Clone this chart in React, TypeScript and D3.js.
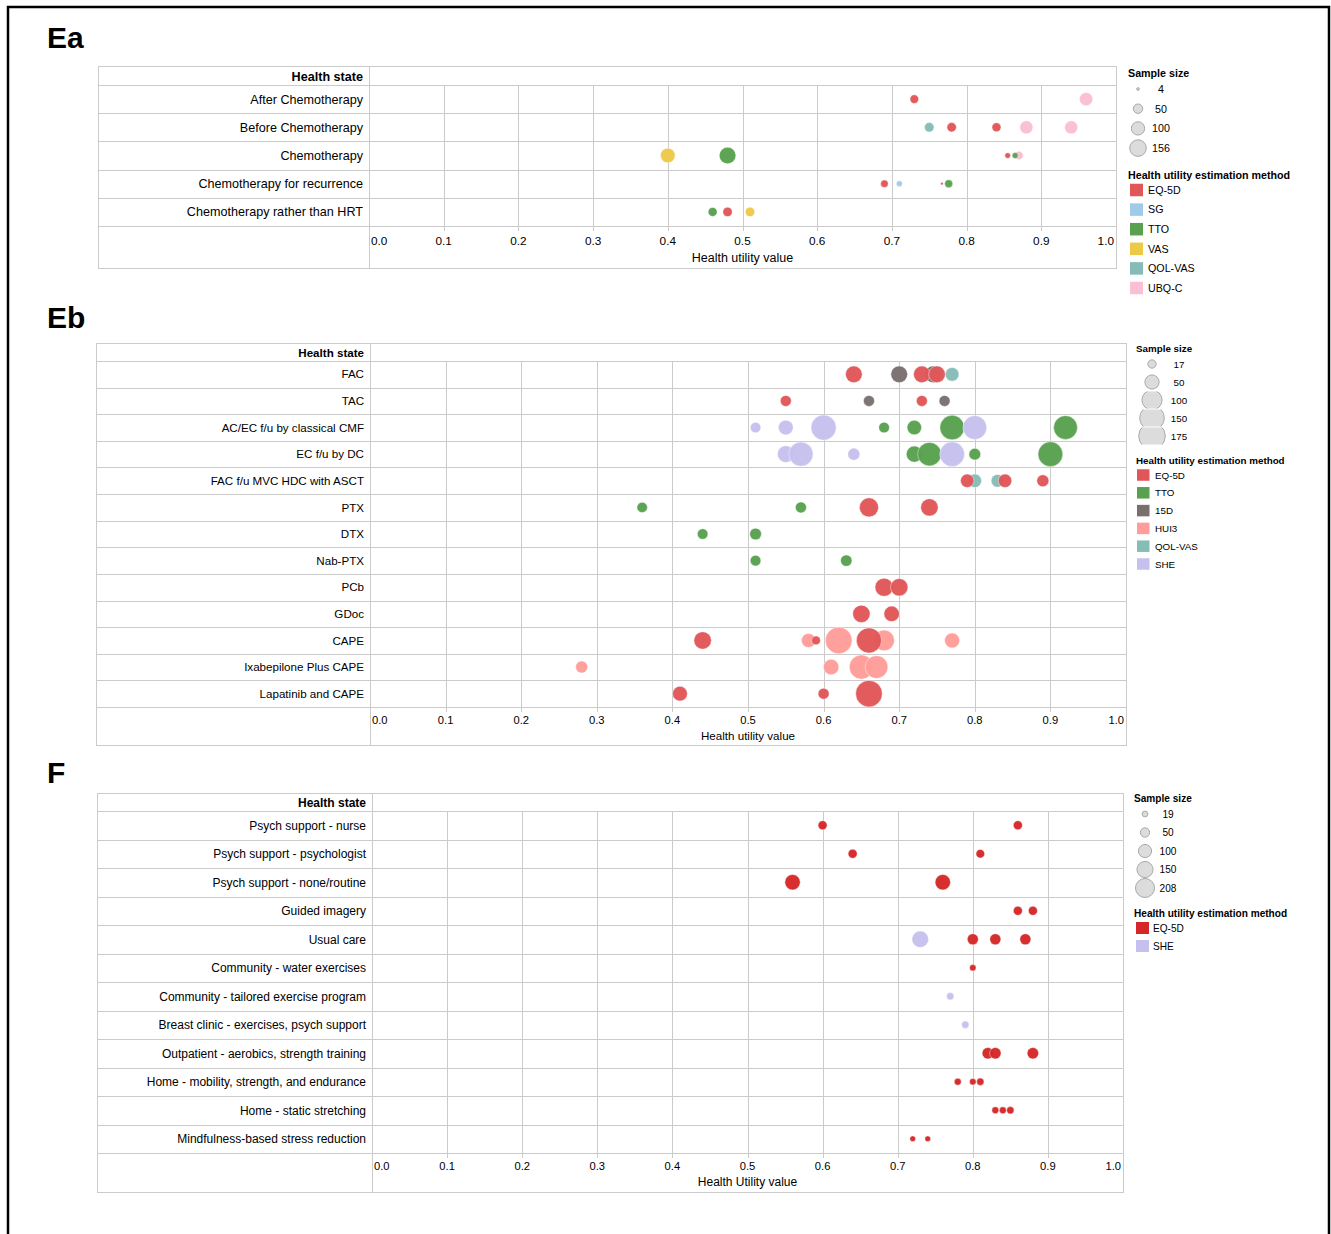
import React from 'react';
import * as d3 from 'd3';

const FONT = '"Liberation Sans", Arial, Helvetica, sans-serif';
const GRID = '#cbcbcb';

type Pt = [number, string, number, number]; // state index, method, utility value, sample size

// ---- Ea ----
const eaStates = ['After Chemotherapy', 'Before Chemotherapy', 'Chemotherapy', 'Chemotherapy for recurrence', 'Chemotherapy rather than HRT'];
const eaMethods = ['EQ-5D', 'SG', 'TTO', 'VAS', 'QOL-VAS', 'UBQ-C'];
const eaColors = ['#e15759', '#a0cbe8', '#59a14f', '#edc948', '#86bcb6', '#fabfd2'];
const eaSizeTicks = [4, 50, 100, 156];
const eaPoints: Pt[] = [
  [0, 'EQ-5D', 0.73, 42], [0, 'UBQ-C', 0.96, 100],
  [1, 'QOL-VAS', 0.75, 52], [1, 'EQ-5D', 0.78, 50], [1, 'EQ-5D', 0.84, 46], [1, 'UBQ-C', 0.88, 96], [1, 'UBQ-C', 0.94, 96],
  [2, 'VAS', 0.4, 121], [2, 'TTO', 0.48, 156], [2, 'UBQ-C', 0.87, 40], [2, 'EQ-5D', 0.855, 18], [2, 'TTO', 0.865, 20],
  [3, 'EQ-5D', 0.69, 33], [3, 'SG', 0.71, 20], [3, 'EQ-5D', 0.767, 4], [3, 'TTO', 0.776, 36],
  [4, 'TTO', 0.46, 46], [4, 'EQ-5D', 0.48, 50], [4, 'VAS', 0.51, 50],
];

// ---- Eb ----
const ebStates = ['FAC', 'TAC', 'AC/EC f/u by classical CMF', 'EC f/u by DC', 'FAC f/u MVC HDC with ASCT', 'PTX', 'DTX', 'Nab-PTX', 'PCb', 'GDoc', 'CAPE', 'Ixabepilone Plus CAPE', 'Lapatinib and CAPE'];
const ebMethods = ['EQ-5D', 'TTO', '15D', 'HUI3', 'QOL-VAS', 'SHE'];
const ebColors = ['#e15759', '#59a14f', '#79706e', '#ff9d9a', '#86bcb6', '#c6c0ee'];
const ebSizeTicks = [17, 50, 100, 150, 175];
const ebPoints: Pt[] = [
  [0, '15D', 0.7, 69], [0, '15D', 0.745, 69], [0, 'QOL-VAS', 0.77, 46], [0, 'EQ-5D', 0.64, 69], [0, 'EQ-5D', 0.73, 69], [0, 'EQ-5D', 0.75, 69],
  [1, '15D', 0.66, 30], [1, '15D', 0.76, 30], [1, 'EQ-5D', 0.55, 30], [1, 'EQ-5D', 0.73, 30],
  [2, 'TTO', 0.68, 28], [2, 'TTO', 0.72, 52], [2, 'TTO', 0.77, 148], [2, 'TTO', 0.92, 140],
  [2, 'SHE', 0.51, 27], [2, 'SHE', 0.55, 54], [2, 'SHE', 0.6, 156], [2, 'SHE', 0.8, 140],
  [3, 'TTO', 0.72, 64], [3, 'TTO', 0.74, 137], [3, 'TTO', 0.8, 34], [3, 'TTO', 0.9, 151],
  [3, 'SHE', 0.55, 69], [3, 'SHE', 0.57, 144], [3, 'SHE', 0.64, 36], [3, 'SHE', 0.77, 151],
  [4, 'QOL-VAS', 0.8, 45], [4, 'QOL-VAS', 0.83, 40], [4, 'EQ-5D', 0.79, 45], [4, 'EQ-5D', 0.84, 45], [4, 'EQ-5D', 0.89, 36],
  [5, 'TTO', 0.36, 27], [5, 'TTO', 0.57, 30], [5, 'EQ-5D', 0.66, 90], [5, 'EQ-5D', 0.74, 75],
  [6, 'TTO', 0.44, 28], [6, 'TTO', 0.51, 34],
  [7, 'TTO', 0.51, 28], [7, 'TTO', 0.63, 32],
  [8, 'EQ-5D', 0.68, 81], [8, 'EQ-5D', 0.7, 75],
  [9, 'EQ-5D', 0.65, 75], [9, 'EQ-5D', 0.69, 59],
  [10, 'HUI3', 0.58, 49], [10, 'HUI3', 0.62, 175], [10, 'HUI3', 0.68, 107], [10, 'HUI3', 0.77, 56],
  [10, 'EQ-5D', 0.44, 75], [10, 'EQ-5D', 0.59, 19], [10, 'EQ-5D', 0.66, 156],
  [11, 'HUI3', 0.28, 36], [11, 'HUI3', 0.61, 59], [11, 'HUI3', 0.65, 144], [11, 'HUI3', 0.67, 128],
  [12, 'EQ-5D', 0.41, 54], [12, 'EQ-5D', 0.6, 30], [12, 'EQ-5D', 0.66, 174],
];

// ---- F ----
const fStates = ['Psych support - nurse', 'Psych support - psychologist', 'Psych support - none/routine', 'Guided imagery', 'Usual care', 'Community - water exercises', 'Community - tailored exercise program', 'Breast clinic - exercises, psych support', 'Outpatient - aerobics, strength training', 'Home - mobility, strength, and endurance', 'Home - static stretching', 'Mindfulness-based stress reduction'];
const fMethods = ['EQ-5D', 'SHE'];
const fColors = ['#d62728', '#c6c0ee'];
const fSizeTicks = [19, 50, 100, 150, 208];
const fPoints: Pt[] = [
  [0, 'EQ-5D', 0.6, 47], [0, 'EQ-5D', 0.86, 47],
  [1, 'EQ-5D', 0.64, 47], [1, 'EQ-5D', 0.81, 43],
  [2, 'EQ-5D', 0.56, 136], [2, 'EQ-5D', 0.76, 136],
  [3, 'EQ-5D', 0.86, 47], [3, 'EQ-5D', 0.88, 47],
  [4, 'SHE', 0.73, 159], [4, 'EQ-5D', 0.8, 70], [4, 'EQ-5D', 0.83, 70], [4, 'EQ-5D', 0.87, 70],
  [5, 'EQ-5D', 0.8, 24],
  [6, 'SHE', 0.77, 31],
  [7, 'SHE', 0.79, 31],
  [8, 'EQ-5D', 0.82, 75], [8, 'EQ-5D', 0.83, 75], [8, 'EQ-5D', 0.88, 75],
  [9, 'EQ-5D', 0.78, 28], [9, 'EQ-5D', 0.8, 25], [9, 'EQ-5D', 0.81, 31],
  [10, 'EQ-5D', 0.83, 28], [10, 'EQ-5D', 0.84, 28], [10, 'EQ-5D', 0.85, 31],
  [11, 'EQ-5D', 0.72, 19], [11, 'EQ-5D', 0.74, 19],
];

interface Legend {
  x: number; sizeY: number; step: number; cx: number; tx: number; clip: boolean;
  methY: number; swX: number; swW: number; swH: number; swStep: number; labX: number; fs: number;
}
interface PanelCfg {
  id: string; letter: string; letterY: number;
  left: number; div: number; right: number; top: number; head: number; rowsEnd: number; bottom: number;
  states: string[]; methods: string[]; colors: string[]; points: Pt[]; sizeTicks: number[]; rMax: number;
  axisTitle: string; labelFs: number; tickFs: number; titleFs: number; tickDy: number; titleDy: number;
  leg: Legend;
}

const panels: PanelCfg[] = [
  {
    id: 'ea', letter: 'Ea', letterY: 48, left: 98, div: 369, right: 1116, top: 66, head: 85, rowsEnd: 226, bottom: 268,
    states: eaStates, methods: eaMethods, colors: eaColors, points: eaPoints, sizeTicks: eaSizeTicks, rMax: 8.3,
    axisTitle: 'Health utility value', labelFs: 12.6, tickFs: 11.8, titleFs: 12.5, tickDy: 19, titleDy: 36,
    leg: { x: 1128, sizeY: 89, step: 19.7, cx: 1138, tx: 1161, clip: false, methY: 179, swX: 1130, swW: 13, swH: 12.5, swStep: 19.6, labX: 1148, fs: 10.7 },
  },
  {
    id: 'eb', letter: 'Eb', letterY: 328, left: 96, div: 370, right: 1126, top: 343, head: 361, rowsEnd: 707, bottom: 745,
    states: ebStates, methods: ebMethods, colors: ebColors, points: ebPoints, sizeTicks: ebSizeTicks, rMax: 13.3,
    axisTitle: 'Health utility value', labelFs: 11.6, tickFs: 11.2, titleFs: 11.6, tickDy: 17, titleDy: 33,
    leg: { x: 1136, sizeY: 364, step: 18, cx: 1152, tx: 1179, clip: true, methY: 464, swX: 1137, swW: 12.5, swH: 11.5, swStep: 17.8, labX: 1155, fs: 9.8 },
  },
  {
    id: 'f', letter: 'F', letterY: 783, left: 97, div: 372, right: 1123, top: 793, head: 811, rowsEnd: 1153, bottom: 1192,
    states: fStates, methods: fMethods, colors: fColors, points: fPoints, sizeTicks: fSizeTicks, rMax: 9.5,
    axisTitle: 'Health Utility value', labelFs: 12, tickFs: 11.2, titleFs: 12, tickDy: 17, titleDy: 33,
    leg: { x: 1134, sizeY: 814, step: 18.5, cx: 1145, tx: 1168, clip: false, methY: 917, swX: 1136, swW: 13, swH: 12, swStep: 18, labX: 1153, fs: 10.1 },
  },
];

function Panel({ cfg }: { cfg: PanelCfg }) {
  const x = d3.scaleLinear().domain([0, 1]).range([cfg.div, cfg.right]);
  const y = d3.scaleBand<number>().domain(d3.range(cfg.states.length)).range([cfg.head, cfg.rowsEnd]);
  const r = d3.scaleSqrt().domain([0, d3.max(cfg.sizeTicks) as number]).range([0, cfg.rMax]);
  const color = d3.scaleOrdinal<string, string>().domain(cfg.methods).range(cfg.colors);
  const ticks = x.ticks(10);
  const bw = y.bandwidth();
  const L = cfg.leg;

  return (
    <g fontFamily={FONT}>
      <text x={47} y={cfg.letterY} fontSize={30} fontWeight="bold">{cfg.letter}</text>

      {/* table frame */}
      <rect x={cfg.left + 0.5} y={cfg.top + 0.5} width={cfg.right - cfg.left} height={cfg.bottom - cfg.top} fill="none" stroke={GRID} />
      <line x1={cfg.div + 0.5} x2={cfg.div + 0.5} y1={cfg.top} y2={cfg.bottom} stroke={GRID} />
      <line x1={cfg.left} x2={cfg.right} y1={cfg.head + 0.5} y2={cfg.head + 0.5} stroke={GRID} />
      {cfg.states.map((_, i) => (
        <line key={i} x1={cfg.left} x2={cfg.right} y1={Math.round((y(i) as number) + bw) + 0.5} y2={Math.round((y(i) as number) + bw) + 0.5} stroke={GRID} />
      ))}
      {ticks.filter((t) => t > 0 && t < 1).map((t) => (
        <line key={t} x1={Math.round(x(t)) + 0.5} x2={Math.round(x(t)) + 0.5} y1={cfg.head} y2={cfg.rowsEnd + 5} stroke={GRID} />
      ))}

      <text x={cfg.div - 6} y={cfg.head - 4} fontSize={cfg.labelFs} fontWeight="bold" textAnchor="end">Health state</text>
      {cfg.states.map((s, i) => (
        <text key={s} x={cfg.div - 6} y={(y(i) as number) + bw / 2 + cfg.labelFs * 0.36} fontSize={cfg.labelFs} textAnchor="end">{s}</text>
      ))}

      {ticks.map((t, i) => (
        <text key={t} x={i === 0 ? cfg.div + 2 : i === ticks.length - 1 ? cfg.right - 2 : x(t)} y={cfg.rowsEnd + cfg.tickDy}
          fontSize={cfg.tickFs} textAnchor={i === 0 ? 'start' : i === ticks.length - 1 ? 'end' : 'middle'}>
          {d3.format('.1f')(t)}
        </text>
      ))}
      <text x={(cfg.div + cfg.right) / 2} y={cfg.rowsEnd + cfg.titleDy} fontSize={cfg.titleFs} textAnchor="middle">{cfg.axisTitle}</text>

      {/* bubbles */}
      {cfg.points.map(([s, m, v, n], i) => (
        <circle key={i} cx={x(v)} cy={(y(s) as number) + bw / 2} r={r(n)} fill={color(m)} fillOpacity={0.97} stroke="#fff" strokeWidth={0.6} strokeOpacity={0.7} />
      ))}

      {/* legend: sample size */}
      <text x={L.x} y={L.sizeY - 12} fontSize={L.fs} fontWeight="bold">Sample size</text>
      <defs>
        {cfg.sizeTicks.map((t, i) => (
          <clipPath key={t} id={`${cfg.id}-clip-${i}`}>
            <rect x={L.cx - 30} y={L.sizeY + i * L.step - L.step / 2 + 0.5} width={60} height={L.step - 1} />
          </clipPath>
        ))}
      </defs>
      {cfg.sizeTicks.map((t, i) => (
        <g key={t}>
          <circle cx={L.cx} cy={L.sizeY + i * L.step} r={r(t)} fill="#dcdcdc" stroke="#a9a9a9" strokeWidth={1}
            clipPath={L.clip ? `url(#${cfg.id}-clip-${i})` : undefined} />
          <text x={L.tx} y={L.sizeY + i * L.step + L.fs * 0.36} fontSize={L.fs} textAnchor="middle">{t}</text>
        </g>
      ))}

      {/* legend: method */}
      <text x={L.x} y={L.methY} fontSize={L.fs} fontWeight="bold">Health utility estimation method</text>
      {cfg.methods.map((m, i) => {
        const cy = L.methY + 11 + i * L.swStep;
        return (
          <g key={m}>
            <rect x={L.swX} y={cy - L.swH / 2} width={L.swW} height={L.swH} fill={color(m)} />
            <text x={L.labX} y={cy + L.fs * 0.36} fontSize={L.fs}>{m}</text>
          </g>
        );
      })}
    </g>
  );
}

export default function App() {
  return (
    <svg width={1331} height={1234} style={{ position: 'absolute', left: 0, top: 0, background: '#fff' }}>
      <rect width={1331} height={1234} fill="#fff" />
      <path d="M8,1240 V7 H1329 V1240" fill="none" stroke="#000" strokeWidth={2.5} />
      {panels.map((p) => <Panel key={p.id} cfg={p} />)}
    </svg>
  );
}
